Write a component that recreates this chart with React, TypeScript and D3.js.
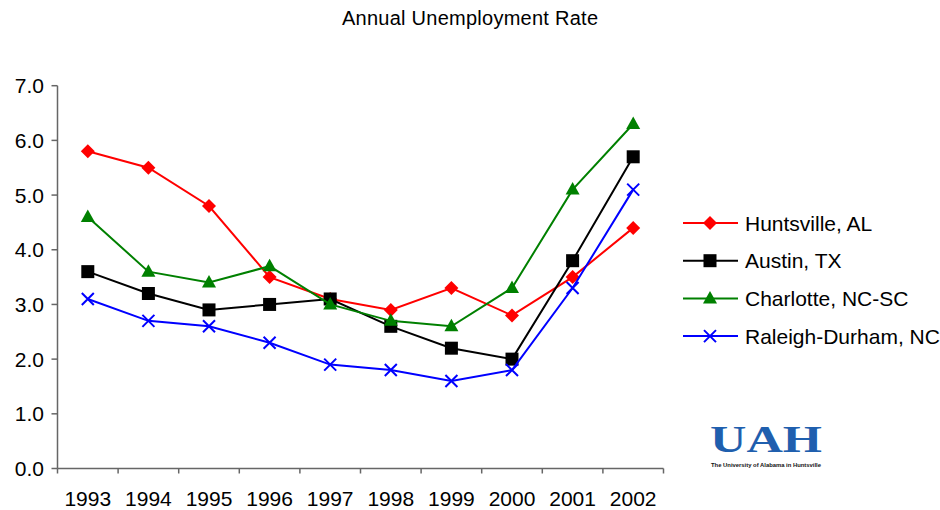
import React from "react";
import * as d3 from "d3";

const years = ["1993", "1994", "1995", "1996", "1997", "1998", "1999", "2000", "2001", "2002"];
const huntsville = [5.8, 5.5, 4.8, 3.5, 3.1, 2.9, 3.3, 2.8, 3.5, 4.4];
const austin = [3.6, 3.2, 2.9, 3.0, 3.1, 2.6, 2.2, 2.0, 3.8, 5.7];
const charlotte = [4.6, 3.6, 3.4, 3.7, 3.0, 2.7, 2.6, 3.3, 5.1, 6.3];
const raleigh = [3.1, 2.7, 2.6, 2.3, 1.9, 1.8, 1.6, 1.8, 3.3, 5.1];
const seriesNames = ["Huntsville, AL", "Austin, TX", "Charlotte, NC-SC", "Raleigh-Durham, NC"];
const yTicks = [0, 1, 2, 3, 4, 5, 6, 7];

const FONT = "'Liberation Sans', Arial, sans-serif";

const series = [
  { name: seriesNames[0], values: huntsville, color: "#ff0000", marker: "diamond" },
  { name: seriesNames[1], values: austin, color: "#000000", marker: "square" },
  { name: seriesNames[2], values: charlotte, color: "#008000", marker: "triangle" },
  { name: seriesNames[3], values: raleigh, color: "#0000ff", marker: "x" },
];

function Marker({ type, x, y, color }: { type: string; x: number; y: number; color: string }) {
  if (type === "diamond") {
    const s = 7;
    return <path d={`M${x},${y - s}L${x + s},${y}L${x},${y + s}L${x - s},${y}Z`} fill={color} />;
  }
  if (type === "square") {
    const s = 6.5;
    return <rect x={x - s} y={y - s} width={2 * s} height={2 * s} fill={color} />;
  }
  if (type === "triangle") {
    return <path d={`M${x},${y - 7.5}L${x + 7},${y + 5}L${x - 7},${y + 5}Z`} fill={color} />;
  }
  const s = 6;
  return (
    <path d={`M${x - s},${y - s}L${x + s},${y + s}M${x - s},${y + s}L${x + s},${y - s}`} stroke={color} strokeWidth={2} fill="none" />
  );
}

export default function App() {
  const left = 57.5, right = 663.5, top = 85.7, bottom = 468.5;
  const xBand = d3.scaleBand<string>().domain(years).range([left, right]).paddingInner(0).paddingOuter(0);
  const xc = (i: number) => (xBand(years[i]) as number) + xBand.bandwidth() / 2;
  const y = d3.scaleLinear().domain([0, 7]).range([bottom, top]);
  const fmt = d3.format(".1f");
  const line = d3.line<number>().x((_, i) => xc(i)).y((d) => y(d));
  const boundaries = years.map((yr) => xBand(yr) as number).concat([right]);

  return (
    <svg width={940} height={510} style={{ position: "absolute", left: 0, top: 0, background: "#fff" }} fontFamily={FONT}>
      <rect x={0} y={0} width={940} height={510} fill="#fff" />
      <text x={470} y={25} textAnchor="middle" fontSize={20} fill="#000" textLength={256} lengthAdjust="spacing">Annual Unemployment Rate</text>

      {/* y axis */}
      <line x1={left} x2={left} y1={top} y2={bottom} stroke="#666" strokeWidth={1.5} />
      {yTicks.map((t) => (
        <g key={t}>
          <line x1={left - 6} x2={left} y1={y(t)} y2={y(t)} stroke="#666" strokeWidth={1.5} />
          <text x={44} y={y(t) + 7.5} textAnchor="end" fontSize={21} fill="#000">{fmt(t)}</text>
        </g>
      ))}

      {/* x axis */}
      <line x1={left} x2={right} y1={bottom} y2={bottom} stroke="#666" strokeWidth={1.5} />
      {boundaries.map((b, i) => (
        <line key={i} x1={b} x2={b} y1={bottom} y2={bottom + 5} stroke="#666" strokeWidth={1.5} />
      ))}
      {years.map((yr, i) => (
        <text key={yr} x={xc(i)} y={506} textAnchor="middle" fontSize={21} fill="#000">{yr}</text>
      ))}

      {/* series */}
      {series.map((s) => (
        <g key={s.name}>
          <path d={line(s.values) || ""} fill="none" stroke={s.color} strokeWidth={2} />
          {s.values.map((v, i) => (
            <Marker key={i} type={s.marker} x={xc(i)} y={y(v)} color={s.color} />
          ))}
        </g>
      ))}

      {/* legend */}
      {series.map((s, i) => {
        const ly = 223 + i * 37.7;
        return (
          <g key={s.name}>
            <line x1={683} x2={738} y1={ly} y2={ly} stroke={s.color} strokeWidth={2} />
            <Marker type={s.marker} x={710} y={ly} color={s.color} />
            <text x={745} y={ly + 7.5} fontSize={21} fill="#000">{s.name}</text>
          </g>
        );
      })}

      {/* UAH logo */}
      <text x={710} y={452} fontFamily="'Liberation Serif', 'Times New Roman', serif" fontWeight="bold" fontSize={38}
        fill="#1f5fae" textLength={112} lengthAdjust="spacingAndGlyphs">UAH</text>
      <text x={711} y={467} fontWeight="bold" fontSize={6} fill="#111" textLength={110} lengthAdjust="spacingAndGlyphs">
        The University of Alabama in Huntsville
      </text>
    </svg>
  );
}
